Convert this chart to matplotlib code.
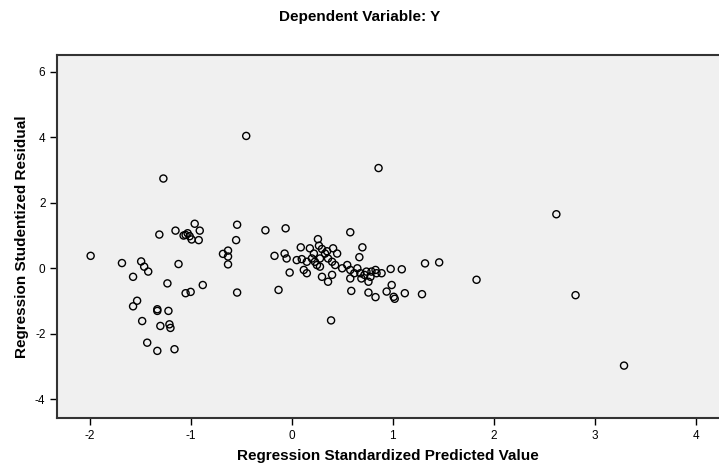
import matplotlib
matplotlib.use("Agg")
import matplotlib.pyplot as plt

# regression standardized predicted value / studentized residual
pred = [-1.99, -1.68, -1.49, -1.46, -1.42, -1.57, -1.12, -1.23, -1.05, -1.00,
        -0.88, -1.53, -1.57, -1.33, -1.33, -1.22, -1.48, -1.30, -1.21, -1.20,
        -1.43, -1.33, -1.16, -1.27, -0.45, -1.31, -1.15, -1.05, -1.03, -1.01,
        -1.07, -0.96, -0.91, -0.92, -0.99, -0.54, -0.55, -0.26, -0.06, -0.68,
        -0.63, -0.63, -0.63, -0.54, -0.17, -0.13, -0.07, -0.05, -0.02,
        0.58, 0.26, 0.09, 0.18, 0.27, 0.30, 0.41, 0.35, 0.70, 0.67,
        0.05, 0.10, 0.15, 0.20, 0.23, 0.28, 0.25, 0.28, 0.36, 0.40,
        0.43, 0.12, 0.15, 0.30, 0.36, 0.40, 0.50, 0.55, 0.58, 0.58,
        0.59, 0.65, 0.68, 0.69, 0.74, 0.79, 0.83, 0.84, 0.78, 0.76,
        0.72, 0.89, 0.98, 1.09, 0.76, 0.83, 0.94, 0.99, 1.01, 1.02,
        1.12, 1.29, 1.32, 1.46, 1.83, 2.62, 2.81, 3.29, 0.86, 0.39,
        0.22, 0.33, 0.45, 0.62]
resid = [0.38, 0.16, 0.21, 0.05, -0.10, -0.26, 0.13, -0.46, -0.76, -0.72,
         -0.51, -0.99, -1.16, -1.25, -1.30, -1.30, -1.61, -1.76, -1.71, -1.82,
         -2.27, -2.52, -2.47, 2.74, 4.04, 1.03, 1.15, 1.02, 1.07, 0.98,
         1.00, 1.36, 1.15, 0.86, 0.88, 1.33, 0.86, 1.16, 1.22, 0.44,
         0.54, 0.36, 0.12, -0.74, 0.38, -0.66, 0.45, 0.30, -0.13,
         1.10, 0.89, 0.64, 0.61, 0.69, 0.59, 0.61, 0.52, 0.64, 0.34,
         0.25, 0.28, 0.20, 0.30, 0.20, 0.30, 0.10, 0.05, 0.30, 0.20,
         0.10, -0.05, -0.15, -0.26, -0.41, -0.20, 0.00, 0.10, -0.05, -0.31,
         -0.69, 0.00, -0.15, -0.31, -0.10, -0.10, -0.05, -0.15, -0.26, -0.41,
         -0.20, -0.15, -0.02, -0.03, -0.74, -0.88, -0.71, -0.51, -0.87, -0.93,
         -0.76, -0.79, 0.15, 0.18, -0.35, 1.65, -0.82, -2.97, 3.06, -1.59,
         0.45, 0.45, 0.45, -0.15]

xticks = [-2, -1, 0, 1, 2, 3, 4]
yticks = [-4, -2, 0, 2, 4, 6]

plt.rcParams['font.family'] = ['Liberation Sans', 'DejaVu Sans']
plt.rcParams['axes.unicode_minus'] = False

fig = plt.figure(figsize=(7.19, 4.65), dpi=100)
ax = fig.add_axes([0.0797, 0.101, 0.9203, 0.7807])
ax.set_facecolor('#f0f0f0')

ax.scatter(pred, resid, s=26, facecolors='none', edgecolors='black',
           linewidths=1.0, zorder=3)

ax.set_xlim(-2.32, 4.23)
ax.set_ylim(-4.57, 6.51)
ax.set_xticks(xticks)
ax.set_yticks(yticks)
ax.tick_params(direction='out', length=5, width=1, labelsize=8.5, colors='black')

for side in ['left', 'bottom', 'top']:
    ax.spines[side].set_color('#333333')
    ax.spines[side].set_linewidth(1.5)
ax.spines['right'].set_visible(False)

ax.set_xlabel('Regression Standardized Predicted Value', fontsize=11,
              fontweight='bold', labelpad=5)
ax.set_ylabel('Regression Studentized Residual', fontsize=11,
              fontweight='bold', labelpad=4)
fig.text(0.5, 0.963, 'Dependent Variable: Y', ha='center', va='center',
         fontsize=11, fontweight='bold')

fig.savefig('out.png', dpi=100)
